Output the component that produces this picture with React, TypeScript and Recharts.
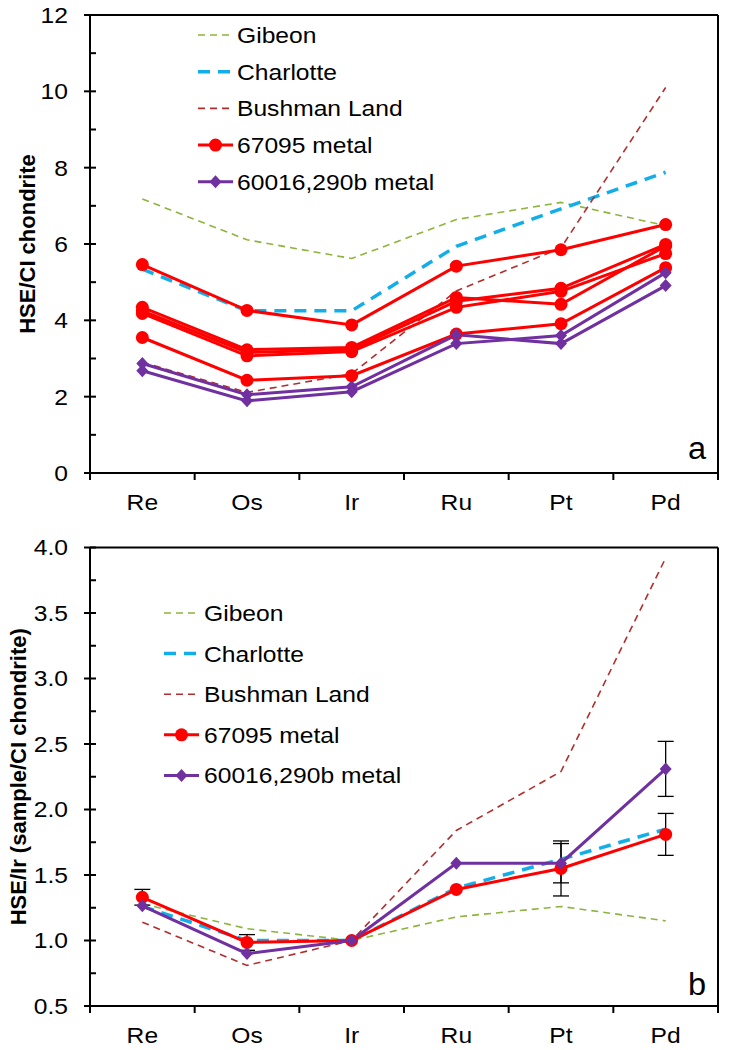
import React from 'react';
import { LineChart, Line, XAxis, YAxis, ErrorBar, Legend, ReferenceLine } from 'recharts';

// ---------- shared ----------
const elements = ['Re', 'Os', 'Ir', 'Ru', 'Pt', 'Pd'];
const seriesNames = ['Gibeon', 'Charlotte', 'Bushman Land', '67095 metal', '60016,290b metal'];

// ---------- panel a : HSE / CI chondrite ----------
const gibeonA = [7.18, 6.11, 5.62, 6.64, 7.09, 6.48];
const charlotteA = [5.34, 4.25, 4.25, 5.94, 6.92, 7.88];
const bushmanA = [2.9, 2.11, 2.6, 4.77, 5.9, 10.1];
const metal67095A1 = [5.46, 4.26, 3.88, 5.42, 5.85, 6.51];
const metal67095A2 = [4.34, 3.23, 3.29, 4.6, 4.42, 5.95];
const metal67095A3 = [4.25, 3.16, 3.23, 4.5, 4.84, 5.99];
const metal67095A4 = [4.18, 3.07, 3.18, 4.34, 4.76, 5.75];
const metal67095A5 = [3.55, 2.43, 2.55, 3.64, 3.91, 5.38];
const metal60016A1 = [2.87, 2.05, 2.26, 3.62, 3.39, 4.91];
const metal60016A2 = [2.68, 1.89, 2.13, 3.39, 3.6, 5.25];
const yTicksA = [0, 1, 2, 3, 4, 5, 6, 7, 8, 9, 10, 11, 12];
const yLabelsA = [0, 2, 4, 6, 8, 10, 12];

// ---------- panel b : HSE / Ir (sample / CI chondrite) ----------
const gibeonB = [1.28, 1.09, 1.0, 1.18, 1.26, 1.15];
const charlotteB = [1.26, 1.0, 1.0, 1.4, 1.62, 1.85];
const bushmanB = [1.14, 0.81, 1.0, 1.84, 2.29, 3.92];
const metal67095B = [1.33, 0.985, 1.0, 1.39, 1.55, 1.81];
const err67095B = [0.06, 0.06, 0, 0, 0.21, 0.16];
const metal60016B = [1.265, 0.9, 1.0, 1.59, 1.59, 2.31];
const err60016B = [0, 0, 0, 0, 0.15, 0.21];
const yTicksB = [0.5, 0.75, 1.0, 1.25, 1.5, 1.75, 2.0, 2.25, 2.5, 2.75, 3.0, 3.25, 3.5, 3.75, 4.0];
const yLabelsB = [0.5, 1.0, 1.5, 2.0, 2.5, 3.0, 3.5, 4.0];

// ---------- styling ----------
const FONT = '"Liberation Sans", Arial, Helvetica, sans-serif';
const STRETCH = 1.12;
const C_GIB = '#8DB43C';
const C_CHA = '#12AEEA';
const C_BUS = '#B22E2E';
const C_RED = '#FF0000';
const C_PUR = '#7030A0';

const rowsA = elements.map((el, i) => ({
  x: i + 0.5,
  el,
  gib: gibeonA[i],
  cha: charlotteA[i],
  bus: bushmanA[i],
  r1: metal67095A1[i],
  r2: metal67095A2[i],
  r3: metal67095A3[i],
  r4: metal67095A4[i],
  r5: metal67095A5[i],
  p1: metal60016A1[i],
  p2: metal60016A2[i],
}));

const rowsB = elements.map((el, i) => ({
  x: i + 0.5,
  el,
  gib: gibeonB[i],
  cha: charlotteB[i],
  bus: bushmanB[i],
  red: metal67095B[i],
  redErr: err67095B[i],
  pur: metal60016B[i],
  purErr: err60016B[i],
}));

const xTicks = elements.flatMap((_, i) => [i, i + 0.5]).concat([elements.length]);

const SText = (p: any) => (
  <text
    transform={`translate(${p.x} ${p.y}) scale(${p.stretch ?? STRETCH} 1)`}
    x={0}
    y={0}
    dy={p.dy}
    textAnchor={p.anchor || 'start'}
    fontSize={p.size}
    fontFamily={FONT}
    fill="#000"
  >
    {p.children}
  </text>
);

const XTick = (props: any) => {
  const { x, y, payload } = props;
  const v = payload.value as number;
  if (Number.isInteger(v)) {
    return <line x1={x} x2={x} y1={y} y2={y + 7} stroke="#000" strokeWidth={2} />;
  }
  return (
    <SText x={x} y={y + 37} anchor="middle" size={22}>
      {elements[Math.floor(v)]}
    </SText>
  );
};

const makeYTick = (majors: number[], decimals: number) => (props: any) => {
  const { x, y, payload } = props;
  const v = payload.value as number;
  const axisX = x + 22;
  const major = majors.some((m) => Math.abs(m - v) < 1e-6);
  if (!major) {
    return <line x1={axisX} x2={axisX + 6} y1={y} y2={y} stroke="#000" strokeWidth={2} />;
  }
  return (
    <g>
      <line x1={axisX - 6} x2={axisX + 6} y1={y} y2={y} stroke="#000" strokeWidth={2} />
      <SText x={x} y={y} dy="0.36em" anchor="end" size={22}>
        {v.toFixed(decimals)}
      </SText>
    </g>
  );
};

const RightTick = (props: any) => {
  const { x, y } = props;
  return <line x1={x - 6} x2={x} y1={y} y2={y} stroke="#000" strokeWidth={2} />;
};

const makeYTitle = (text: string, cx: number) => (props: any) => {
  const vb = props.viewBox || {};
  const cy = vb.y + vb.height / 2;
  const px = vb.x + cx;
  return (
    <text
      x={px}
      y={cy}
      transform={`rotate(-90 ${px} ${cy})`}
      textAnchor="middle"
      dominantBaseline="central"
      fontSize={22}
      fontWeight="bold"
      fontFamily={FONT}
      fill="#000"
    >
      {text}
    </text>
  );
};

const makePanelLetter = (letter: string, dx: number, dy: number) => (props: any) => {
  const vb = props.viewBox || {};
  return (
    <SText x={vb.x - dx} y={vb.y + vb.height - dy} anchor="middle" size={31} stretch={1.05}>
      {letter}
    </SText>
  );
};

const RedDot = (props: any) => {
  const { cx, cy, index } = props;
  if (cx == null || cy == null) return <g key={`rd-${index}`} />;
  return <circle key={`rd-${index}`} cx={cx} cy={cy} r={6.5} fill={C_RED} />;
};

const PurpleDot = (props: any) => {
  const { cx, cy, index } = props;
  if (cx == null || cy == null) return <g key={`pd-${index}`} />;
  return (
    <path
      key={`pd-${index}`}
      d={`M${cx},${cy - 6.5}L${cx + 6},${cy}L${cx},${cy + 6.5}L${cx - 6},${cy}Z`}
      fill={C_PUR}
    />
  );
};

const legendStyles = [
  { color: C_GIB, width: 1.6, dash: '7 5', marker: 'none' },
  { color: C_CHA, width: 3.5, dash: '12 8', marker: 'none' },
  { color: C_BUS, width: 1.6, dash: '7 5', marker: 'none' },
  { color: C_RED, width: 3, dash: undefined, marker: 'circle' },
  { color: C_PUR, width: 3, dash: undefined, marker: 'diamond' },
];

const makeLegend = (gap: number, textX: number) => () => (
  <svg width={300} height={gap * 5 + 10} style={{ display: 'block', overflow: 'visible' }}>
    {seriesNames.map((name, i) => {
      const s = legendStyles[i];
      const cy = 18 + i * gap;
      return (
        <g key={name}>
          <line x1={0} x2={35} y1={cy} y2={cy} stroke={s.color} strokeWidth={s.width} strokeDasharray={s.dash} />
          {s.marker === 'circle' && <circle cx={17.5} cy={cy} r={6.5} fill={s.color} />}
          {s.marker === 'diamond' && (
            <path d={`M17.5,${cy - 6.5}L23.5,${cy}L17.5,${cy + 6.5}L11.5,${cy}Z`} fill={s.color} />
          )}
          <SText x={textX} y={cy} dy="0.36em" size={22}>
            {name}
          </SText>
        </g>
      );
    })}
  </svg>
);

export default function App() {
  return (
    <div style={{ position: 'absolute', left: 0, top: 0, width: 729, height: 1050, background: '#fff' }}>
      {/* Panel a */}
      <div style={{ position: 'absolute', left: 0, top: 0 }}>
        <LineChart width={729} height={525} data={rowsA} margin={{ top: 15, right: 10, bottom: 0, left: 0 }}>
          <XAxis
            dataKey="x"
            type="number"
            domain={[0, 6]}
            ticks={xTicks}
            interval={0}
            height={52}
            tickSize={0}
            tickMargin={0}
            tickLine={false}
            tick={<XTick />}
            axisLine={{ stroke: '#000', strokeWidth: 2 }}
            allowDataOverflow
          />
          <YAxis
            yAxisId="left"
            type="number"
            domain={[0, 12]}
            ticks={yTicksA}
            interval={0}
            width={90}
            tickSize={0}
            tickMargin={22}
            tickLine={false}
            tick={makeYTick(yLabelsA, 0)}
            axisLine={{ stroke: '#000', strokeWidth: 2 }}
            label={{ content: makeYTitle('HSE/CI chondrite', 27) }}
          />
          <YAxis
            yAxisId="right"
            orientation="right"
            type="number"
            domain={[0, 12]}
            ticks={yTicksA}
            interval={0}
            width={1}
            tickSize={0}
            tickMargin={0}
            tickLine={false}
            tick={<RightTick />}
            axisLine={{ stroke: '#000', strokeWidth: 2 }}
            label={{ content: makePanelLetter('a', 21, 14) }}
          />
          <ReferenceLine yAxisId="left" y={12} stroke="#000" strokeWidth={2} ifOverflow="visible" />
          <Legend
            layout="vertical"
            align="center"
            verticalAlign="middle"
            wrapperStyle={{ left: 198, top: 17, width: 300 }}
            content={makeLegend(36.7, 39)}
          />
          <Line yAxisId="left" dataKey="gib" stroke={C_GIB} strokeWidth={1.6} strokeDasharray="7 5" dot={false} isAnimationActive={false} />
          <Line yAxisId="left" dataKey="cha" stroke={C_CHA} strokeWidth={3.5} strokeDasharray="12 8" dot={false} isAnimationActive={false} />
          <Line yAxisId="left" dataKey="bus" stroke={C_BUS} strokeWidth={1.6} strokeDasharray="7 5" dot={false} isAnimationActive={false} />
          <Line yAxisId="left" dataKey="r1" stroke={C_RED} strokeWidth={3} dot={RedDot} isAnimationActive={false} />
          <Line yAxisId="left" dataKey="r2" stroke={C_RED} strokeWidth={3} dot={RedDot} isAnimationActive={false} />
          <Line yAxisId="left" dataKey="r3" stroke={C_RED} strokeWidth={3} dot={RedDot} isAnimationActive={false} />
          <Line yAxisId="left" dataKey="r4" stroke={C_RED} strokeWidth={3} dot={RedDot} isAnimationActive={false} />
          <Line yAxisId="left" dataKey="r5" stroke={C_RED} strokeWidth={3} dot={RedDot} isAnimationActive={false} />
          <Line yAxisId="left" dataKey="p1" stroke={C_PUR} strokeWidth={3} dot={PurpleDot} isAnimationActive={false} />
          <Line yAxisId="left" dataKey="p2" stroke={C_PUR} strokeWidth={3} dot={PurpleDot} isAnimationActive={false} />
        </LineChart>
      </div>

      {/* Panel b */}
      <div style={{ position: 'absolute', left: 0, top: 525 }}>
        <LineChart width={729} height={525} data={rowsB} margin={{ top: 22.5, right: 10, bottom: 0, left: 0 }}>
          <XAxis
            dataKey="x"
            type="number"
            domain={[0, 6]}
            ticks={xTicks}
            interval={0}
            height={44}
            tickSize={0}
            tickMargin={0}
            tickLine={false}
            tick={<XTick />}
            axisLine={{ stroke: '#000', strokeWidth: 2 }}
            allowDataOverflow
          />
          <YAxis
            yAxisId="left"
            type="number"
            domain={[0.5, 4]}
            ticks={yTicksB}
            interval={0}
            width={90}
            tickSize={0}
            tickMargin={22}
            tickLine={false}
            tick={makeYTick(yLabelsB, 1)}
            axisLine={{ stroke: '#000', strokeWidth: 2 }}
            label={{ content: makeYTitle('HSE/Ir (sample/CI chondrite)', 18) }}
          />
          <YAxis
            yAxisId="right"
            orientation="right"
            type="number"
            domain={[0.5, 4]}
            ticks={yTicksB}
            interval={0}
            width={1}
            tickSize={0}
            tickMargin={0}
            tickLine={false}
            tick={<RightTick />}
            axisLine={{ stroke: '#000', strokeWidth: 2 }}
            label={{ content: makePanelLetter('b', 21, 11) }}
          />
          <ReferenceLine yAxisId="left" y={4} stroke="#000" strokeWidth={2} ifOverflow="visible" />
          <Legend
            layout="vertical"
            align="center"
            verticalAlign="middle"
            wrapperStyle={{ left: 164, top: 70, width: 300 }}
            content={makeLegend(40.6, 40)}
          />
          <Line yAxisId="left" dataKey="gib" stroke={C_GIB} strokeWidth={1.6} strokeDasharray="7 5" dot={false} isAnimationActive={false} />
          <Line yAxisId="left" dataKey="cha" stroke={C_CHA} strokeWidth={3.5} strokeDasharray="12 8" dot={false} isAnimationActive={false} />
          <Line yAxisId="left" dataKey="bus" stroke={C_BUS} strokeWidth={1.6} strokeDasharray="7 5" dot={false} isAnimationActive={false} />
          <Line yAxisId="left" dataKey="red" stroke={C_RED} strokeWidth={3} dot={RedDot} isAnimationActive={false}>
            <ErrorBar dataKey="redErr" direction="y" width={8} stroke="#000" strokeWidth={1.3} />
          </Line>
          <Line yAxisId="left" dataKey="pur" stroke={C_PUR} strokeWidth={3} dot={PurpleDot} isAnimationActive={false}>
            <ErrorBar dataKey="purErr" direction="y" width={8} stroke="#000" strokeWidth={1.3} />
          </Line>
        </LineChart>
      </div>
    </div>
  );
}
